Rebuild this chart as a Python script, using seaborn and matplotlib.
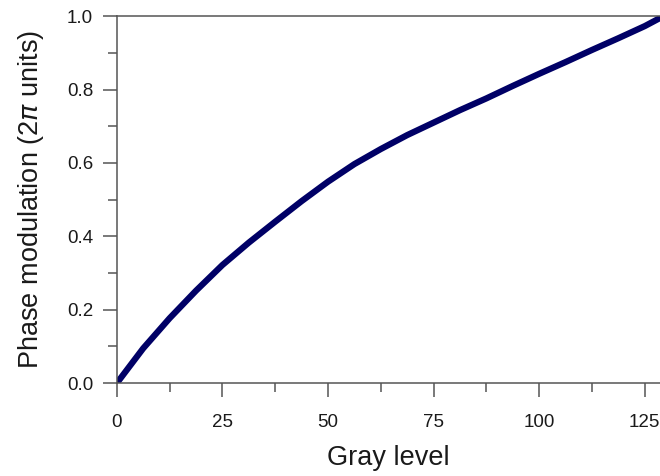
import numpy as np
import pandas as pd
import seaborn as sns
import matplotlib.pyplot as plt
from matplotlib.ticker import MultipleLocator

# values
gray = [0, 6.25, 12.5, 18.75, 25, 31.25, 37.5, 43.75, 50, 56.25, 62.5, 68.75,
        75, 81.25, 87.5, 93.75, 100, 106.25, 112.5, 118.75, 125, 128.6]
phase = [0.0, 0.095, 0.177, 0.252, 0.322, 0.383, 0.44, 0.496, 0.549, 0.597,
         0.638, 0.676, 0.71, 0.744, 0.776, 0.81, 0.843, 0.875, 0.908, 0.94,
         0.973, 0.995]

df = pd.DataFrame({"gray": gray, "phase": phase})

sns.set_style("ticks")
plt.rcParams['font.family'] = ['Liberation Sans', 'DejaVu Sans']
plt.rcParams['mathtext.fontset'] = 'dejavusans'

fig = plt.figure(figsize=(6.6, 4.76), dpi=100)
ax = fig.add_axes([0.177, 0.195, 0.823, 0.771])

sns.lineplot(x="gray", y="phase", data=df, color="#000066", linewidth=4.5, ax=ax)

ax.set_xlim(0, 128.6)
ax.set_ylim(0, 1.0)
ax.xaxis.set_major_locator(MultipleLocator(25))
ax.xaxis.set_minor_locator(MultipleLocator(12.5))
ax.yaxis.set_minor_locator(MultipleLocator(0.1))
ax.set_yticks([0, 0.2, 0.4, 0.6, 0.8, 1.0])
ax.set_yticklabels(["0.0", "0.2", "0.4", "0.6", "0.8", "1.0"])

edge = "#555555"
for s in ["left", "bottom", "top"]:
    ax.spines[s].set_color(edge)
    ax.spines[s].set_linewidth(1.1)
ax.spines["right"].set_visible(False)

ax.tick_params(which="major", length=10, width=1.1, color=edge,
               labelsize=13.5, labelcolor="#1a1a1a")
ax.tick_params(axis="x", which="major", pad=12)
ax.tick_params(axis="y", which="major", pad=7)
ax.tick_params(which="minor", length=6.5, width=1.1, color=edge)

ax.set_xlabel("Gray level", fontsize=19.5, color="#1a1a1a", labelpad=10)
ax.set_ylabel(r"Phase modulation (2$\pi$ units)", fontsize=19.5, color="#1a1a1a", labelpad=15)

plt.savefig("out.png", dpi=100)
